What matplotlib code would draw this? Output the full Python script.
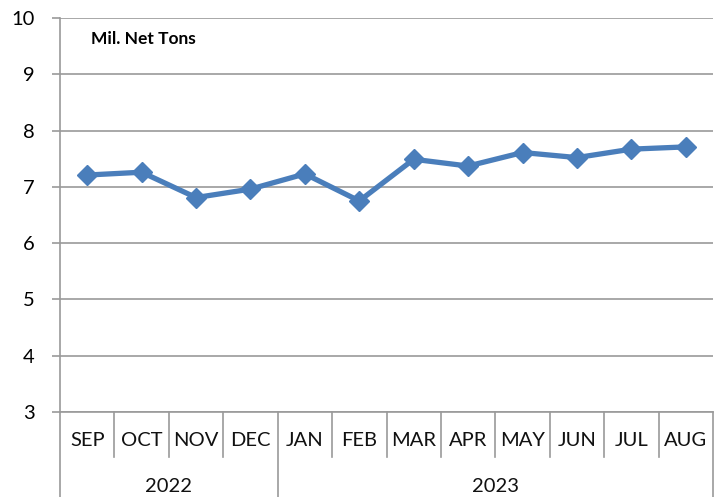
import matplotlib.pyplot as plt
import matplotlib.transforms as mtransforms

plt.rcParams['font.family'] = ['Lato', 'DejaVu Sans']

months = ['SEP', 'OCT', 'NOV', 'DEC', 'JAN', 'FEB', 'MAR', 'APR', 'MAY', 'JUN', 'JUL', 'AUG']
years = ['2022', '2023']
year_spans = [(0, 4), (4, 12)]  # month index ranges for each year
values = [7.21, 7.26, 6.81, 6.96, 7.23, 6.75, 7.49, 7.37, 7.61, 7.52, 7.67, 7.71]
y_ticks = [3, 4, 5, 6, 7, 8, 9, 10]

grey = '#9a9a9a'
blue = '#4a7ebb'

fig = plt.figure(figsize=(7.16, 4.97), dpi=100)
ax = fig.add_axes([60 / 716, 1 - 412 / 497, 653 / 716, 394 / 497])

x = [i + 0.5 for i in range(len(months))]
ax.plot(x, values, color=blue, lw=3.8, marker='D', markersize=10,
        markeredgecolor=blue, markerfacecolor=blue, solid_joinstyle='round', zorder=3)

ax.set_xlim(0, len(months))
ax.set_ylim(3, 10)
ax.set_yticks(y_ticks)
ax.yaxis.grid(True, color=grey, lw=1.2)
ax.set_axisbelow(True)
ax.tick_params(axis='y', length=6, width=1.2, color=grey, pad=12, labelsize=14.5)
ax.set_xticks([])
for s in ['top', 'right']:
    ax.spines[s].set_visible(False)
for s in ['left', 'bottom']:
    ax.spines[s].set_color(grey)
    ax.spines[s].set_linewidth(1.2)

# two-level category axis
trans = mtransforms.blended_transform_factory(ax.transData, ax.transAxes)
month_depth = -(457 - 412) / 394
year_depth = -(497 - 412) / 394
year_edges = {a for span in year_spans for a in span}
for i in range(len(months) + 1):
    bottom = year_depth if i in year_edges else month_depth
    ax.plot([i, i], [0, bottom], transform=trans, color=grey, lw=1.2, clip_on=False)
for i, m in enumerate(months):
    ax.text(i + 0.5, -(441 - 412) / 394, m, transform=trans, ha='center', va='center',
            fontsize=14.5, color='#111111')
for yr, (a, b) in zip(years, year_spans):
    ax.text((a + b) / 2, -(487 - 412) / 394, yr, transform=trans, ha='center', va='center',
            fontsize=14.5, color='#111111')

ax.text(91 / 716, 1 - 39 / 497, 'Mil. Net Tons', transform=fig.transFigure,
        ha='left', va='center', fontsize=12.5, fontweight='bold')

fig.savefig('out.png', dpi=100)
